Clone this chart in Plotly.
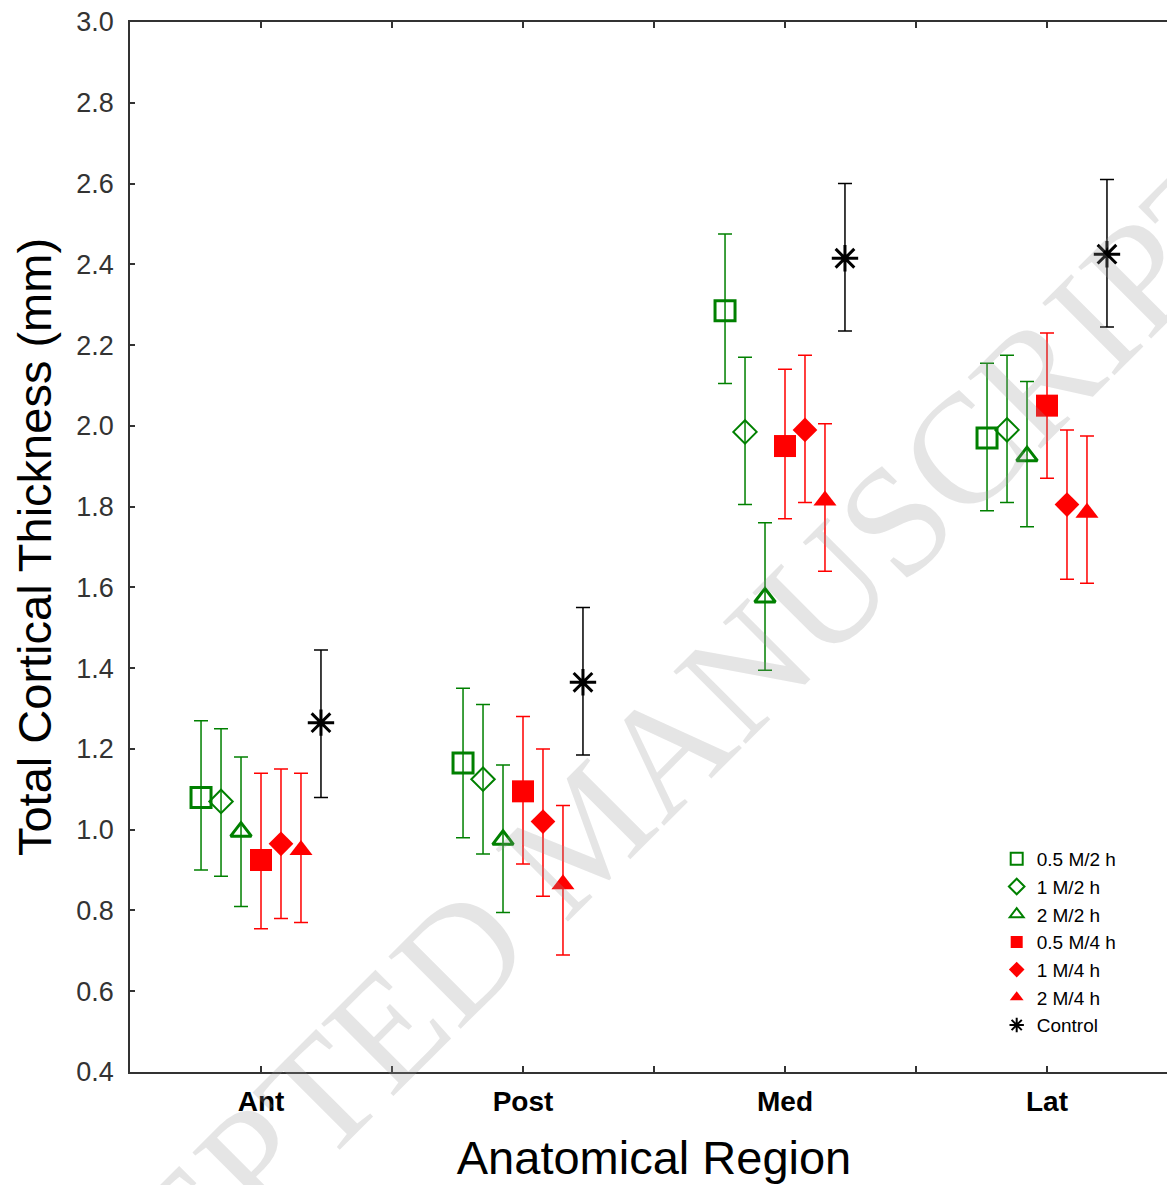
import plotly.graph_objects as go

regions = ["Ant", "Post", "Med", "Lat"]
series_names = ["0.5 M/2 h", "1 M/2 h", "2 M/2 h", "0.5 M/4 h", "1 M/4 h", "2 M/4 h", "Control"]

mean_05M2h = [1.08, 1.165, 2.285, 1.97]
low_05M2h = [0.90, 0.98, 2.105, 1.79]
high_05M2h = [1.27, 1.35, 2.475, 2.155]

mean_1M2h = [1.07, 1.125, 1.985, 1.99]
low_1M2h = [0.885, 0.94, 1.805, 1.81]
high_1M2h = [1.25, 1.31, 2.17, 2.175]

mean_2M2h = [0.995, 0.975, 1.575, 1.925]
low_2M2h = [0.81, 0.795, 1.395, 1.75]
high_2M2h = [1.18, 1.16, 1.76, 2.11]

mean_05M4h = [0.925, 1.095, 1.95, 2.05]
low_05M4h = [0.755, 0.915, 1.77, 1.87]
high_05M4h = [1.14, 1.28, 2.14, 2.23]

mean_1M4h = [0.965, 1.02, 1.99, 1.805]
low_1M4h = [0.78, 0.835, 1.81, 1.62]
high_1M4h = [1.15, 1.20, 2.175, 1.99]

mean_2M4h = [0.95, 0.865, 1.815, 1.785]
low_2M4h = [0.77, 0.69, 1.64, 1.61]
high_2M4h = [1.14, 1.06, 2.005, 1.975]

mean_ctrl = [1.265, 1.365, 2.415, 2.425]
low_ctrl = [1.08, 1.185, 2.235, 2.245]
high_ctrl = [1.445, 1.55, 2.60, 2.61]

y_ticks = [0.4, 0.6, 0.8, 1.0, 1.2, 1.4, 1.6, 1.8, 2.0, 2.2, 2.4, 2.6, 2.8, 3.0]

GREEN = "#008000"
RED = "#FF0000"
BLACK = "#000000"

styles = [
    dict(symbol="square-open", color=GREEN, size=20, lw=3),
    dict(symbol="diamond-open", color=GREEN, size=18, lw=2),
    dict(symbol="triangle-up-open", color=GREEN, size=18, lw=3),
    dict(symbol="square", color=RED, size=22, lw=0),
    dict(symbol="diamond", color=RED, size=19, lw=0),
    dict(symbol="triangle-up", color=RED, size=20, lw=0),
    dict(symbol="asterisk-open", color=BLACK, size=22, lw=3),
]

data = [
    (mean_05M2h, low_05M2h, high_05M2h),
    (mean_1M2h, low_1M2h, high_1M2h),
    (mean_2M2h, low_2M2h, high_2M2h),
    (mean_05M4h, low_05M4h, high_05M4h),
    (mean_1M4h, low_1M4h, high_1M4h),
    (mean_2M4h, low_2M4h, high_2M4h),
    (mean_ctrl, low_ctrl, high_ctrl),
]

step = 0.0763
fig = go.Figure()
for k, (name, (m, lo, hi), st) in enumerate(zip(series_names, data, styles)):
    off = (k - 3) * step
    xs = [i + off for i in range(len(regions))]
    fig.add_trace(go.Scatter(
        x=xs, y=m, mode="markers", name=name,
        marker=dict(symbol=st["symbol"], size=st["size"], color=st["color"],
                    line=dict(width=st["lw"], color=st["color"])),
        error_y=dict(type="data", symmetric=False,
                     array=[h - v for h, v in zip(hi, m)],
                     arrayminus=[v - l for v, l in zip(m, lo)],
                     color=st["color"], thickness=1.5, width=7),
    ))

fig.add_annotation(
    text="ACCEPTED MANUSCRIPT", xref="paper", yref="paper",
    x=0.434, y=0.230, xanchor="center", yanchor="middle",
    showarrow=False, textangle=-45,
    font=dict(family="Liberation Serif", size=156, color="rgba(150,150,150,0.25)"),
)

fig.update_layout(
    width=1175, height=1185,
    margin=dict(l=122, r=5, t=14, b=121, autoexpand=False),
    paper_bgcolor="white", plot_bgcolor="white",
    font=dict(family="Liberation Sans, Arial", color="black"),
    showlegend=True,
    legend=dict(x=0.827, y=0.221, xanchor="left", yanchor="top",
                bgcolor="rgba(0,0,0,0)", font=dict(size=19),
                itemsizing="constant", tracegroupgap=0),
    xaxis=dict(
        range=[-0.5, 3.5], tickvals=list(range(len(regions))), ticktext=regions,
        tickfont=dict(size=28, family="Liberation Sans, Arial", weight="bold"),
        ticks="inside", ticklen=6, tickwidth=1.5, tickcolor="#333",
        showline=True, linecolor="#333", linewidth=1.5, mirror="ticks",
        minor=dict(tick0=0.5, dtick=1, ticks="inside", ticklen=6, tickwidth=1.5, tickcolor="#333"),
        showgrid=False, zeroline=False, automargin=False,
        title=dict(text="Anatomical Region", font=dict(size=47), standoff=25),
        ticklabelstandoff=4, ticklabeloverflow="allow",
    ),
    yaxis=dict(
        range=[0.4, 3.0], tickvals=y_ticks, tickformat=".1f",
        tickfont=dict(size=27, color="#333"),
        ticks="inside", ticklen=5, tickwidth=1.5, tickcolor="#333",
        showline=True, linecolor="#333", linewidth=1.5, mirror="ticks",
        showgrid=False, zeroline=False, automargin=False,
        title=dict(text="Total Cortical Thickness (mm)", font=dict(size=47), standoff=10),
        ticklabelstandoff=9, ticklabeloverflow="allow",
    ),
)

fig.write_html("out.html")
